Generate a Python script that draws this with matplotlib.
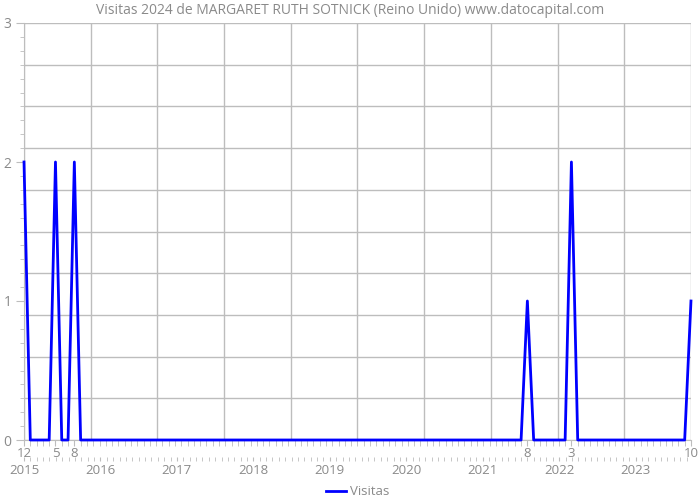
import numpy as np
import matplotlib
matplotlib.use("Agg")
import matplotlib.pyplot as plt
from matplotlib.ticker import FixedLocator, MultipleLocator

# ------------------------------------------------------
# Data: monthly visits, Dec 2014 .. Oct 2023
n_months = 107
spike_idx = [0, 5, 8, 80, 87, 106]
spike_val = [2, 2, 2, 1, 2, 1]
month_labels = ["12", "5", "8", "8", "3", "10"]
years = [2015, 2016, 2017, 2018, 2019, 2020, 2021, 2022, 2023]

visits = np.zeros(n_months)
visits[spike_idx] = spike_val
x = np.arange(n_months)

# ------------------------------------------------------
# Style
grey = "#8a8a8a"
grid_c = "#bdbdbd"
plt.rcParams["font.family"] = ["Open Sans", "DejaVu Sans"]

fig = plt.figure(figsize=(7, 5), dpi=100)
ax = fig.add_axes([0.0343, 0.12, 0.9528, 0.834])

# grid: 10 even divisions each way
for f in np.linspace(0, 1, 11):
    ax.plot([f, f], [0, 1], transform=ax.transAxes, color=grid_c, lw=1, zorder=0)
    ax.plot([0, 1], [f, f], transform=ax.transAxes, color=grid_c, lw=1, zorder=0)

ax.plot(x, visits, color="#0000ff", lw=2, label="Visitas", zorder=3, clip_on=False)

ax.set_xlim(0, n_months - 1)
ax.set_ylim(0, 3)

for s in ["top", "right"]:
    ax.spines[s].set_visible(False)
for s in ["left", "bottom"]:
    ax.spines[s].set_color(grid_c)

ax.yaxis.set_major_locator(FixedLocator([0, 1, 2, 3]))
ax.yaxis.set_minor_locator(MultipleLocator(0.1))
ax.tick_params(axis="y", which="major", length=6, color=grid_c, labelcolor=grey,
               labelsize=10, pad=3)
ax.tick_params(axis="y", which="minor", length=3, color=grid_c)

ax.xaxis.set_major_locator(FixedLocator(spike_idx))
ax.set_xticklabels(month_labels)
ax.xaxis.set_minor_locator(MultipleLocator(1))
ax.tick_params(axis="x", which="major", length=4, color=grid_c, labelcolor=grey,
               labelsize=9.5, pad=1)
ax.tick_params(axis="x", which="minor", length=4, color=grid_c)

# year row (slightly different scale, as in the reference)
k = 12.15
sec = ax.secondary_xaxis(-0.04, functions=(lambda v: v / k, lambda v: v * k))
sec.spines["bottom"].set_visible(False)
sec.xaxis.set_major_locator(FixedLocator(list(range(len(years)))))
sec.set_xticklabels([str(y) for y in years])
sec.xaxis.set_minor_locator(MultipleLocator(1 / 12))
sec.tick_params(axis="x", which="major", length=3, color=grid_c, labelcolor=grey,
                labelsize=9.5, pad=2)
sec.tick_params(axis="x", which="minor", length=3, color=grid_c)

fig.text(0.5, 0.98, "Visitas 2024 de MARGARET RUTH SOTNICK (Reino Unido) www.datocapital.com",
         ha="center", va="center", color=grey, fontsize=10)

leg = ax.legend(loc="upper center", bbox_to_anchor=(0.5, -0.08), frameon=False,
                fontsize=9.5, handlelength=1.5, handletextpad=0.3)
for t in leg.get_texts():
    t.set_color(grey)

fig.savefig("out.png", dpi=100)
